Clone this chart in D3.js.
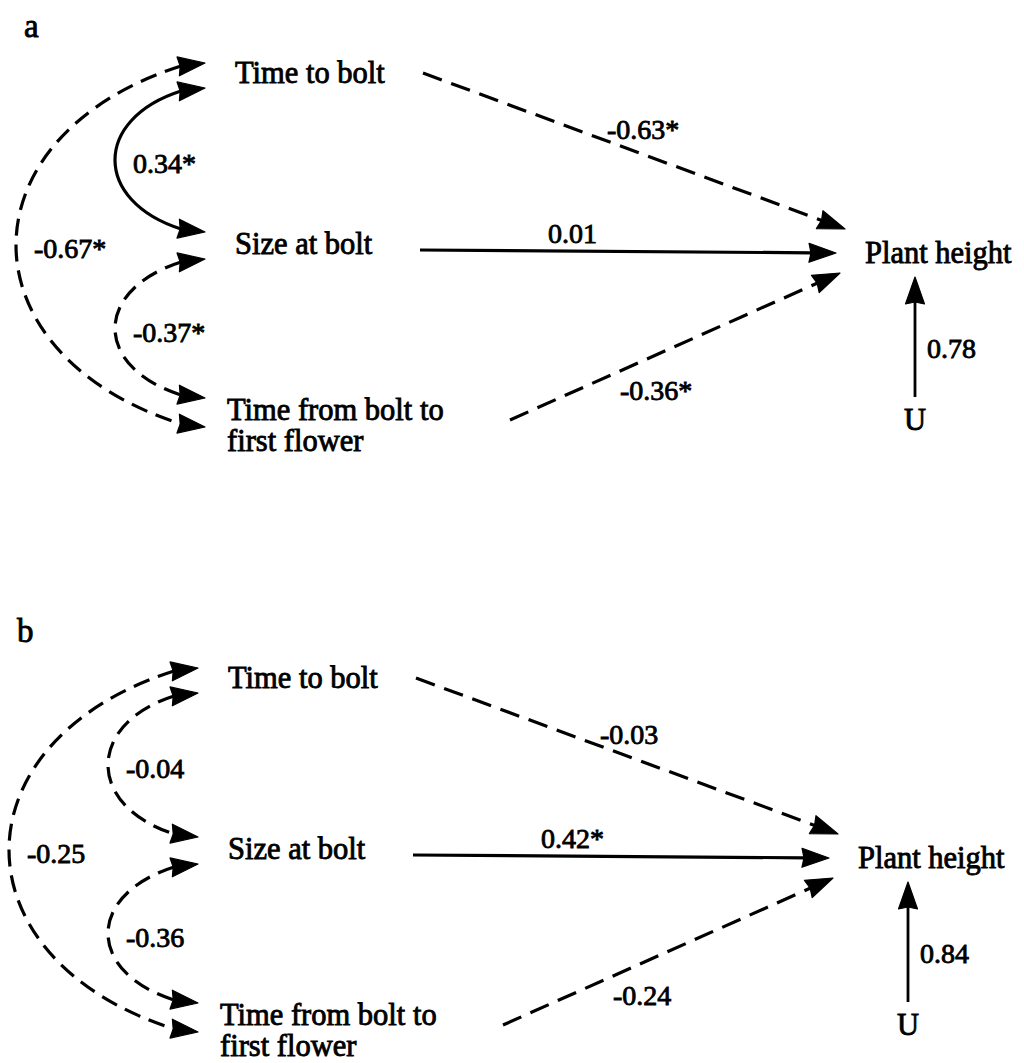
<!DOCTYPE html>
<html><head><meta charset="utf-8">
<script src="https://cdn.jsdelivr.net/npm/d3@7"></script>
<style>
body{margin:0;background:#fff}
svg text{font-family:"Liberation Serif","Times New Roman",Times,serif;fill:#000;stroke:#000;stroke-width:0.85px}
</style>
</head><body>
<svg id="c" width="1024" height="1063"></svg>
<script>
// ---------------- DATA ----------------
const panels = ["a", "b"];
const predictors = ["Time to bolt", "Size at bolt", "Time from bolt to first flower"];
const predictorLines = [["Time to bolt"], ["Size at bolt"], ["Time from bolt to", "first flower"]];
const outcome = "Plant height";
const residualName = "U";
// direct paths predictor -> plant height
const pathCoefA = [-0.63, 0.01, -0.36];
const pathSigA  = [true, false, true];
const pathCoefB = [-0.03, 0.42, -0.24];
const pathSigB  = [false, true, false];
// correlations between predictors
const corrPairs = [[0, 1], [1, 2], [0, 2]];
const corrCoefA = [0.34, -0.37, -0.67];
const corrSigA  = [true, true, true];
const corrCoefB = [-0.04, -0.36, -0.25];
const corrSigB  = [false, false, false];
// residual path U -> plant height
const residualCoef = [0.78, 0.84];

const panelData = {
  a: {path: pathCoefA, pathSig: pathSigA, corr: corrCoefA, corrSig: corrSigA, resid: residualCoef[0]},
  b: {path: pathCoefB, pathSig: pathSigB, corr: corrCoefB, corrSig: corrSigB, resid: residualCoef[1]}
};

// ---------------- LAYOUT ----------------
const panelOffset = d3.scaleOrdinal().domain(panels).range([[0, 0], [-7, 605]]);
const rowY = d3.scaleOrdinal().domain(predictors).range([75, 246, 412]);
const nodeX = d3.scaleOrdinal().domain(predictors).range([235, 235, 227]);
const srcX = d3.scaleOrdinal().domain(predictors).range([423, 420, 510]);
const srcDy = d3.scaleOrdinal().domain(predictors).range([-2, 4, 8]);
const tipPt = d3.scaleOrdinal().domain(predictors).range([[845, 229], [836, 253], [840, 273]]);
const pathLabelPos = d3.scaleOrdinal().domain(predictors).range([[607, 139], [548, 243], [620, 400]]);
const arcTipX = 205, arcLeft = {inner: 115, outer: 16};
const outcomeX = 865, outcomeBase = 263;
const residX = 915, residBottom = 397, residTip = 277;

const FONT = "Liberation Serif, Times New Roman, Times, serif";
const NODE_FS = 30.5, LABEL_FS = 28, LETTER_FS = 33;
const AL = 27, AW = 9.5;   // arrow length & half width
const fmt = (v, s) => v.toFixed(2) + (s ? "*" : "");

const svg = d3.select("#c");

function arrowHead(g, base, tip, L, W) {
  const dx = tip[0] - base[0], dy = tip[1] - base[1];
  const len = Math.hypot(dx, dy), ux = dx / len, uy = dy / len;
  const b = [tip[0] - ux * L, tip[1] - uy * L];
  const p = d3.path();
  p.moveTo(tip[0], tip[1]);
  p.lineTo(b[0] - uy * W, b[1] + ux * W);
  p.lineTo(b[0] + ux * 2, b[1] + uy * 2);
  p.lineTo(b[0] + uy * W, b[1] - ux * W);
  p.closePath();
  g.append("path").attr("d", p.toString()).attr("fill", "#000").attr("stroke", "#000")
    .attr("stroke-width", 1.2).attr("stroke-linejoin", "round");
  return b;
}

function addText(g, x, y, fs, str) {
  return g.append("text").attr("x", x).attr("y", y).attr("font-size", fs)
    .attr("font-family", FONT).text(str);
}

panels.forEach(pn => {
  const d = panelData[pn];
  const off = panelOffset(pn);
  const g = svg.append("g").attr("transform", `translate(${off[0]},${off[1]})`);

  // panel letter
  addText(g, 24, 37, LETTER_FS, pn);

  // predictor nodes
  predictors.forEach((p, i) => {
    predictorLines[i].forEach((ln, k) => {
      addText(g, nodeX(p), rowY(p) + 8 + k * 31, NODE_FS, ln);
    });
  });

  // outcome node
  addText(g, outcomeX, outcomeBase, NODE_FS, outcome);

  // direct paths
  predictors.forEach((p, i) => {
    const v = d.path[i];
    const s = [srcX(p), rowY(p) + srcDy(p)];
    const tip = tipPt(p);
    const dx = tip[0] - s[0], dy = tip[1] - s[1], len = Math.hypot(dx, dy);
    const base = [tip[0] - dx / len * (AL - 3), tip[1] - dy / len * (AL - 3)];
    g.append("line").attr("x1", s[0]).attr("y1", s[1]).attr("x2", base[0]).attr("y2", base[1])
      .attr("stroke", "#000").attr("stroke-width", 3.2)
      .attr("stroke-dasharray", v < 0 ? "20,10" : null);
    arrowHead(g, s, tip, AL, AW);
    const lp = pathLabelPos(p);
    addText(g, lp[0], lp[1], LABEL_FS, fmt(v, d.pathSig[i]));
  });

  // correlation arcs
  corrPairs.forEach((pr, k) => {
    const v = d.corr[k];
    const inner = (pr[1] - pr[0]) === 1;
    const yTopTip = rowY(predictors[pr[0]]) + (inner ? 13 : -12);
    const yBotTip = rowY(predictors[pr[1]]) + (inner ? -14 : 15);
    const bx = arcTipX - AL + 3;
    const y0 = yTopTip + 3, y3 = yBotTip - 3;
    const left = inner ? arcLeft.inner : arcLeft.outer;
    const a = (8 * left - 2 * bx) / 6;
    const kk = 0.32 * (bx - a);
    const p = d3.path();
    p.moveTo(bx, y0);
    p.bezierCurveTo(a, y0 + kk, a, y3 - kk, bx, y3);
    g.append("path").attr("d", p.toString()).attr("fill", "none")
      .attr("stroke", "#000").attr("stroke-width", 3.2)
      .attr("stroke-dasharray", v < 0 ? "17,9" : null);
    arrowHead(g, [bx - 3, y0 + 0.4], [arcTipX, yTopTip], AL, AW);
    arrowHead(g, [bx - 3, y3 - 0.4], [arcTipX, yBotTip], AL, AW);
    const mid = (yTopTip + yBotTip) / 2;
    addText(g, left + 18, mid + 13, LABEL_FS, fmt(v, d.corrSig[k]));
  });

  // residual
  g.append("line").attr("x1", residX).attr("y1", residBottom).attr("x2", residX).attr("y2", residTip + AL - 3)
    .attr("stroke", "#000").attr("stroke-width", 2.8);
  arrowHead(g, [residX, residBottom], [residX, residTip], 27, 9.5);
  addText(g, residX + 12, 358, LABEL_FS, d.resid.toFixed(2));
  addText(g, residX, 430, NODE_FS, residualName).attr("text-anchor", "middle");
});
</script>
</body></html>
